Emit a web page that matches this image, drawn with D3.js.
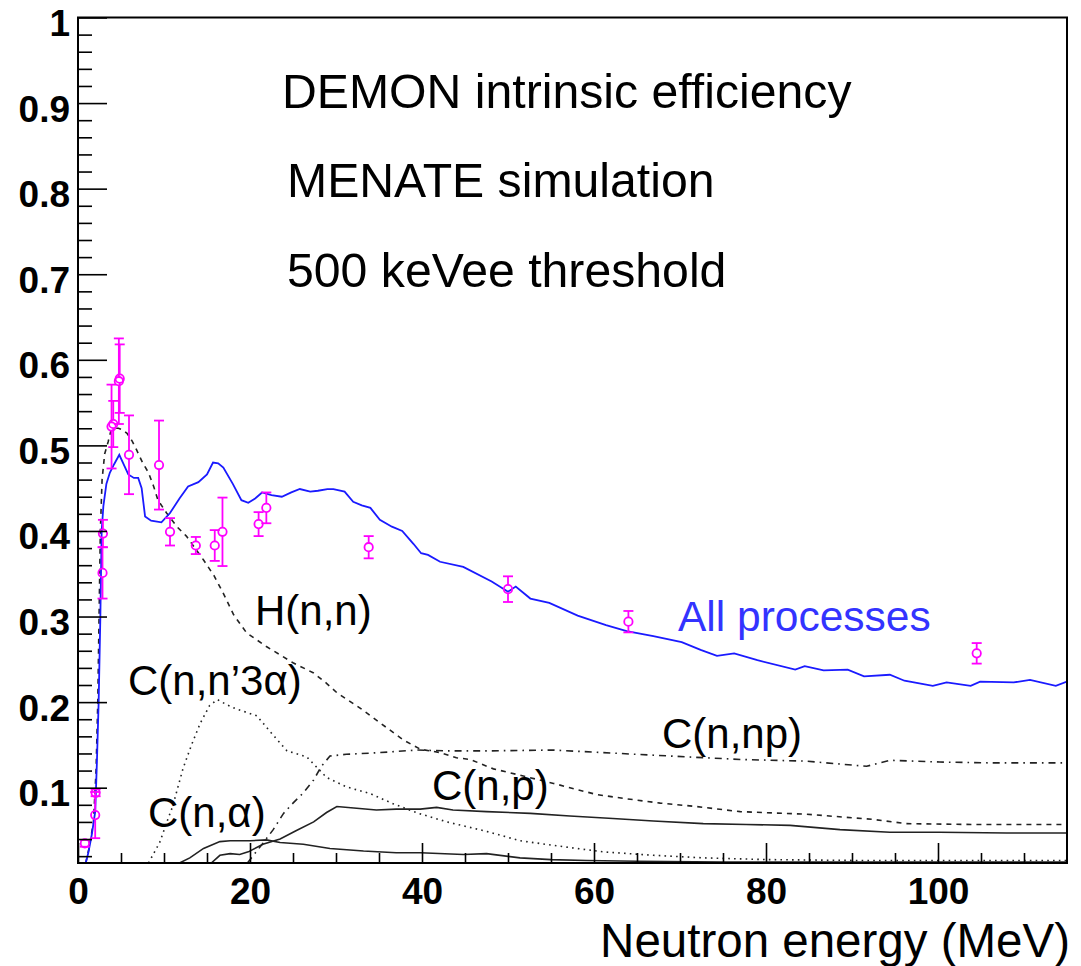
<!DOCTYPE html>
<html><head><meta charset="utf-8">
<script src="https://cdn.jsdelivr.net/npm/d3@7"></script>
<style>body{margin:0;background:#fff} svg{display:block}</style>
</head><body><svg id="c" width="1081" height="966"></svg>
<script>
// ---- data ----
const allE   = [0.9,1.2,1.6,2.0,2.2,2.4,2.6,2.75,2.95,3.3,3.7,4.2,4.8,5.3,5.85,6.5,7.0,7.4,7.8,8.5,9.7,10.7,11.8,12.8,14.0,15.0,15.7,16.3,16.9,18.0,19.0,19.8,20.6,21.4,22.5,23.7,24.8,25.8,27.0,27.9,29.0,29.7,31.0,32.0,33.0,34.0,35.1,36.5,37.7,39.0,39.9,40.7,42.1,44.8,48.1,50.0,50.9,52.6,54.8,58.1,61.4,63.8,66.9,70.2,72.4,74.3,76.3,79.0,83.4,84.5,86.7,89.5,91.4,94.4,96.1,99.4,101.0,103.8,104.9,108.8,110.7,113.7,115];
const allEff = [0.012,0.024,0.045,0.072,0.13,0.2,0.30,0.40,0.429,0.455,0.468,0.478,0.489,0.478,0.466,0.462,0.462,0.45,0.417,0.412,0.41,0.421,0.438,0.452,0.457,0.466,0.48,0.479,0.474,0.455,0.436,0.433,0.438,0.445,0.442,0.440,0.445,0.449,0.446,0.447,0.449,0.449,0.446,0.434,0.430,0.427,0.413,0.405,0.400,0.385,0.374,0.372,0.364,0.358,0.341,0.329,0.335,0.321,0.316,0.301,0.290,0.283,0.277,0.270,0.261,0.254,0.257,0.249,0.238,0.242,0.237,0.238,0.230,0.232,0.225,0.219,0.223,0.219,0.224,0.223,0.226,0.219,0.224];

const hnnE   = [0.9,1.3,1.8,2.1,2.3,2.45,2.6,2.8,3.1,3.5,3.8,4.2,4.7,5.2,5.7,6.3,6.8,7.5,8.2,8.8,9.3,10.3,11.5,12.6,13.6,14.6,15.8,16.9,18.1,19.6,21.9,25.0,27.4,28.9,30.1,32.8,35.1,37.8,39.8,42.1,44.0,45.6,48.3,50.0,55.3,57.2,60.3,63.8,67.7,71.9,77.0,84.7,92.4,96.3,104,115];
const hnnEff = [0.012,0.03,0.06,0.12,0.2,0.30,0.40,0.46,0.49,0.504,0.516,0.52,0.52,0.518,0.514,0.505,0.495,0.48,0.468,0.452,0.436,0.421,0.405,0.394,0.380,0.366,0.348,0.327,0.302,0.281,0.265,0.246,0.234,0.222,0.211,0.193,0.176,0.156,0.145,0.141,0.135,0.133,0.122,0.118,0.105,0.100,0.092,0.087,0.082,0.078,0.072,0.069,0.063,0.058,0.057,0.057];

const c3aE   = [8.2,9.5,10.3,11.0,12.2,13.2,14.2,15.3,16.2,17.3,18.4,20.8,22.3,24.3,26.6,28.9,31.2,34.0,36.7,39.6,42.9,47.5,51.4,57.2,61.1,66.9,72.7,80,90,100,115];
const c3aEff = [0.012,0.036,0.059,0.078,0.122,0.15,0.175,0.196,0.203,0.197,0.192,0.184,0.166,0.143,0.136,0.112,0.101,0.093,0.081,0.070,0.060,0.049,0.038,0.030,0.025,0.021,0.018,0.016,0.015,0.015,0.015];

const cnpE   = [19.7,21.5,22.7,23.9,25.0,26.2,27.4,28.3,29.3,31.2,35.1,39.4,43,47.5,55.2,63,70.8,77,84.7,91.7,94.4,100.2,106,115];
const cnpEff = [0.012,0.035,0.051,0.070,0.082,0.094,0.109,0.125,0.137,0.139,0.141,0.144,0.143,0.143,0.144,0.140,0.136,0.133,0.131,0.125,0.132,0.130,0.129,0.129];

const cpE    = [15.5,16.5,17.7,18.8,19.8,21.5,23.5,25.4,27.4,28.9,30.1,32.4,34.7,37.0,39.8,41.7,43.6,47.5,52.6,57.2,62.2,66.9,72.7,77.7,82.8,88.6,94.4,100.2,108,115];
const cpEff  = [0.012,0.021,0.023,0.022,0.025,0.034,0.040,0.050,0.060,0.071,0.078,0.076,0.074,0.075,0.075,0.077,0.074,0.072,0.070,0.067,0.064,0.061,0.058,0.057,0.056,0.051,0.048,0.048,0.047,0.047];

const caE    = [11.8,13.0,14.6,16.5,17.7,20.0,21.9,23.5,26.2,29.3,33.2,37.0,39.8,44.8,47.5,51.4,55,59.1,65,75,90,115];
const caEff  = [0.012,0.018,0.029,0.037,0.038,0.038,0.039,0.036,0.034,0.029,0.026,0.024,0.024,0.022,0.023,0.018,0.016,0.015,0.014,0.013,0.013,0.013];

const dataE   = [0.8,2.0,2.05,2.85,2.9,3.9,4.1,4.75,4.85,5.93,9.42,10.7,13.7,15.9,16.8,21.0,21.9,33.8,50.0,64.0,104.5];
const dataEff = [0.035,0.068,0.094,0.351,0.397,0.522,0.525,0.575,0.578,0.489,0.477,0.399,0.383,0.383,0.399,0.408,0.427,0.381,0.332,0.294,0.257];
const dataErr = [0.004,0.027,0.004,0.030,0.016,0.049,0.027,0.050,0.040,0.046,0.052,0.016,0.010,0.018,0.040,0.014,0.018,0.013,0.015,0.0125,0.012];

const xMajor = [0,20,40,60,80,100];
const xMinor = d3.range(5,115,5).filter(v=>v%20!==0);
const yMajor = [0.1,0.2,0.3,0.4,0.5,0.6,0.7,0.8,0.9,1.0];
const yMinor = d3.range(2,100,2).map(v=>v/100).filter(v=>Math.round(v*100)%10!==0);

const titleLines = ["DEMON intrinsic efficiency","MENATE simulation","500 keVee threshold"];
const curveLabels = ["H(n,n)","C(n,n\u20193\u03b1)","C(n,np)","C(n,p)","C(n,\u03b1)"];

// ---- drawing ----
const svg = d3.select("#c");
const L=78, R=1067, T=17.5, B=863;
const x = d3.scaleLinear().domain([0,115]).range([L,R]);
const y = d3.scaleLinear().domain([0.012,1]).range([B,T]);

svg.append("rect").attr("width",1081).attr("height",966).attr("fill","#fff");
svg.append("clipPath").attr("id","clip").append("rect")
  .attr("x",L).attr("y",T).attr("width",R-L).attr("height",B-T);

const g = svg.append("g").attr("clip-path","url(#clip)");
const line = (E,V) => d3.line().x((d,i)=>x(E[i])).y((d,i)=>y(V[i]))(E);

const styles = [
  {E:c3aE,V:c3aEff,dash:"1.6,4.2",w:1.6},
  {E:caE,V:caEff,dash:null,w:1.6},
  {E:cpE,V:cpEff,dash:null,w:1.6},
  {E:cnpE,V:cnpEff,dash:"7,5,1.6,5",w:1.6},
  {E:hnnE,V:hnnEff,dash:"5,5",w:1.6},
];
styles.forEach(s=>{
  g.append("path").attr("d",line(s.E,s.V)).attr("fill","none")
   .attr("stroke","#222").attr("stroke-width",s.w)
   .attr("stroke-dasharray",s.dash);
});
g.append("path").attr("d",line(allE,allEff)).attr("fill","none")
  .attr("stroke","#1a1aff").attr("stroke-width",1.8);

// data points
const pts = g.append("g").attr("stroke","#ff00ff").attr("stroke-width",1.8).attr("fill","none");
dataE.forEach((e,i)=>{
  const cx=x(e), cy=y(dataEff[i]), y1=y(dataEff[i]+dataErr[i]), y2=y(dataEff[i]-dataErr[i]);
  if (y2-y1>9){
    pts.append("line").attr("x1",cx).attr("x2",cx).attr("y1",y1).attr("y2",cy-4.2);
    pts.append("line").attr("x1",cx).attr("x2",cx).attr("y1",cy+4.2).attr("y2",y2);
  }
  pts.append("line").attr("x1",cx-5).attr("x2",cx+5).attr("y1",y1).attr("y2",y1);
  pts.append("line").attr("x1",cx-5).attr("x2",cx+5).attr("y1",y2).attr("y2",y2);
  pts.append("circle").attr("cx",cx).attr("cy",cy).attr("r",4.2);
});

// axes
const ax = svg.append("g");
function styleAxis(sel){
  sel.select(".domain").remove();
  sel.selectAll("line").attr("stroke","#000").attr("stroke-width",1.6);
}
ax.append("g").attr("transform",`translate(${L},0)`)
  .call(d3.axisLeft(y).tickValues(yMinor).tickSizeInner(-14).tickSizeOuter(0).tickFormat(""))
  .call(styleAxis);
const yAx = ax.append("g").attr("transform",`translate(${L},0)`)
  .call(d3.axisLeft(y).tickValues(yMajor).tickSizeInner(-29).tickSizeOuter(0).tickPadding(8)
        .tickFormat(d=>d===1?"1":d3.format(".1f")(d)))
  .call(styleAxis);
yAx.selectAll("text").attr("font-family","'Liberation Sans',Arial,sans-serif")
  .attr("font-weight","bold").attr("font-size",37).attr("fill","#000")
  .attr("dy",null).attr("y",18).attr("x",-8);

ax.append("g").attr("transform",`translate(0,${B})`)
  .call(d3.axisBottom(x).tickValues(xMinor).tickSizeInner(-10).tickSizeOuter(0).tickFormat(""))
  .call(styleAxis);
const xAx = ax.append("g").attr("transform",`translate(0,${B})`)
  .call(d3.axisBottom(x).tickValues(xMajor).tickSizeInner(-20).tickSizeOuter(0).tickFormat(d3.format("d")))
  .call(styleAxis);
xAx.selectAll("text").attr("font-family","'Liberation Sans',Arial,sans-serif")
  .attr("font-weight","bold").attr("font-size",37).attr("fill","#000")
  .attr("dy",null).attr("y",41);

// frame
svg.append("rect").attr("x",L).attr("y",T).attr("width",R-L).attr("height",B-T)
  .attr("fill","none").attr("stroke","#000").attr("stroke-width",2);

// texts
const font="'Liberation Sans',Arial,sans-serif";
const titlePos=[[282,108],[287,197],[287,287]];
titleLines.forEach((t,i)=>svg.append("text").attr("x",titlePos[i][0]).attr("y",titlePos[i][1])
  .attr("font-family",font).attr("font-size",48.2).attr("fill","#000").text(t));

const labPos=[[255,625],[128,695],[662,748],[432,800],[148,827]];
curveLabels.forEach((t,i)=>svg.append("text").attr("x",labPos[i][0]).attr("y",labPos[i][1])
  .attr("font-family",font).attr("font-size",42).attr("fill","#000").text(t));

svg.append("text").attr("x",678).attr("y",631).attr("font-family",font)
  .attr("font-size",42.5).attr("fill","#3333ff").text("All processes");

svg.append("text").attr("x",1070).attr("y",957).attr("text-anchor","end")
  .attr("font-family",font).attr("font-size",47.5).attr("fill","#000").text("Neutron energy (MeV)");
</script></body></html>
